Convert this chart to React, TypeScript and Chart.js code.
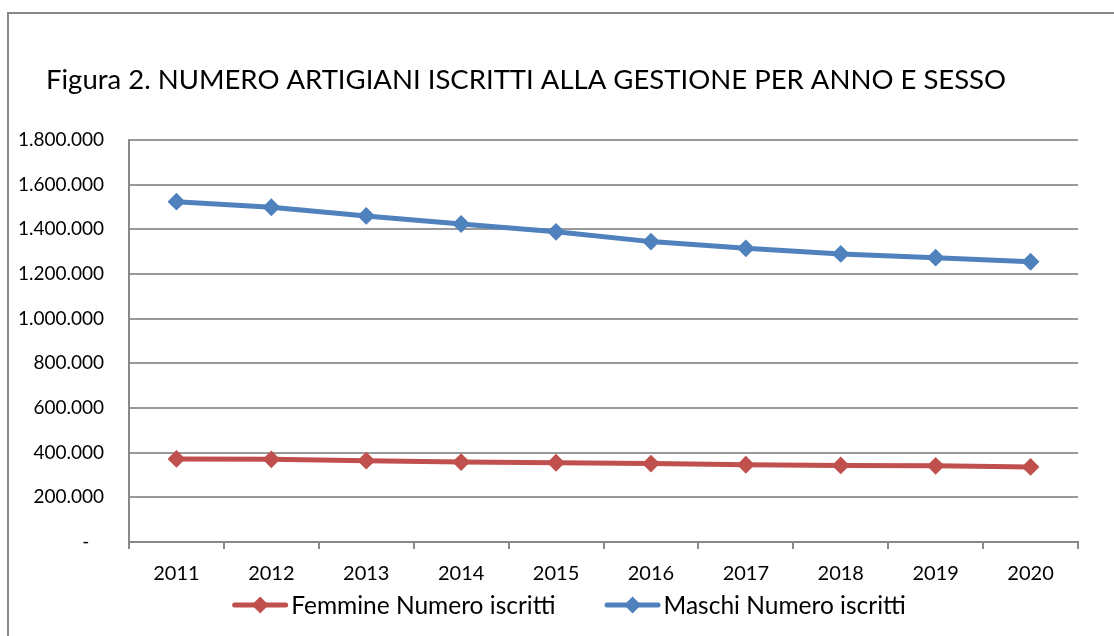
import { useEffect, useRef } from 'react';
import { Chart, registerables } from 'chart.js';

Chart.register(...registerables);

const TITLE = 'Figura 2. NUMERO ARTIGIANI ISCRITTI ALLA GESTIONE PER ANNO E SESSO';
const YEARS = ['2011', '2012', '2013', '2014', '2015', '2016', '2017', '2018', '2019', '2020'];
const SERIES_NAMES = ['Femmine Numero iscritti', 'Maschi Numero iscritti'];
const FEMMINE = [372000, 370000, 364000, 358000, 355000, 351000, 346000, 343000, 341000, 336000];
const MASCHI = [1524000, 1499000, 1460000, 1424000, 1389000, 1345000, 1315000, 1290000, 1273000, 1255000];
const Y_MIN = 0;
const Y_MAX = 1800000;
const Y_STEP = 200000;
const COLORS = ['#C0504D', '#4F81BD'];

const FONT = 'Lato';

function formatIt(v: number): string {
  if (v === 0) return '-   ';
  return String(Math.round(v)).replace(/\B(?=(\d{3})+(?!\d))/g, '.');
}

const titlePlugin = {
  id: 'customTitle',
  afterDraw(chart: any) {
    const ctx = chart.ctx;
    ctx.save();
    ctx.font = `27.5px ${FONT}`;
    ctx.fillStyle = '#000';
    ctx.textAlign = 'left';
    ctx.textBaseline = 'alphabetic';
    ctx.fillText(TITLE, 37, 75);
    ctx.restore();
  },
};

const legendPlugin = {
  id: 'customLegend',
  afterDraw(chart: any) {
    const ctx = chart.ctx;
    ctx.save();
    ctx.font = `24.5px ${FONT}`;
    const sampleW = 56;
    const textGap = 3;
    const itemGap = 49;
    const items = chart.data.datasets.map((ds: any) => ({
      text: ds.label as string,
      color: ds.borderColor as string,
      w: sampleW + textGap + ctx.measureText(ds.label).width,
    }));
    const total = items.reduce((s: number, it: any) => s + it.w, 0) + itemGap * (items.length - 1);
    let x = chart.width / 2 - total / 2;
    const yc = 591;
    items.forEach((it: any) => {
      ctx.strokeStyle = it.color;
      ctx.lineWidth = 5;
      ctx.lineCap = 'round';
      ctx.beginPath();
      ctx.moveTo(x + 2.5, yc);
      ctx.lineTo(x + sampleW - 2.5, yc);
      ctx.stroke();
      const cx = x + sampleW / 2;
      ctx.fillStyle = it.color;
      ctx.beginPath();
      ctx.moveTo(cx - 8.5, yc);
      ctx.lineTo(cx, yc - 8.5);
      ctx.lineTo(cx + 8.5, yc);
      ctx.lineTo(cx, yc + 8.5);
      ctx.closePath();
      ctx.fill();
      ctx.fillStyle = '#000';
      ctx.textAlign = 'left';
      ctx.textBaseline = 'alphabetic';
      ctx.fillText(it.text, x + sampleW + textGap, yc + 8.5);
      x += it.w + itemGap;
    });
    ctx.restore();
  },
};

export default function App() {
  const ref = useRef<HTMLCanvasElement | null>(null);

  useEffect(() => {
    if (!ref.current) return;
    const mkDs = (label: string, data: number[], color: string) => ({
      label,
      data,
      borderColor: color,
      backgroundColor: color,
      borderWidth: 5,
      pointStyle: 'rectRot',
      pointRadius: 7.5,
      pointBorderWidth: 2,
      pointBackgroundColor: color,
      pointBorderColor: color,
      tension: 0,
    });
    const chart = new Chart(ref.current, {
      type: 'line',
      data: {
        labels: YEARS,
        datasets: [mkDs(SERIES_NAMES[0], FEMMINE, COLORS[0]), mkDs(SERIES_NAMES[1], MASCHI, COLORS[1])],
      },
      options: {
        animation: false,
        responsive: false,
        maintainAspectRatio: false,
        devicePixelRatio: 1,
        layout: { padding: { left: 0, top: 126, right: 51, bottom: 44 } },
        font: { family: FONT, size: 19 },
        color: '#000',
        scales: {
          x: {
            type: 'category',
            offset: true,
            afterFit(scale: any) {
              scale.height = 50;
            },
            grid: {
              offset: true,
              drawOnChartArea: false,
              drawTicks: true,
              tickLength: 7,
              color: '#888888',
              lineWidth: 2,
            },
            border: { display: true, color: '#888888', width: 2 },
            ticks: {
              color: '#000',
              font: { family: FONT, size: 20 },
              padding: 13,
              maxRotation: 0,
            },
          },
          y: {
            min: Y_MIN,
            max: Y_MAX,
            afterFit(scale: any) {
              scale.width = 120;
            },
            grid: {
              drawTicks: false,
              color: '#999999',
              lineWidth: 2,
            },
            border: { display: true, color: '#888888', width: 2 },
            ticks: {
              stepSize: Y_STEP,
              color: '#000',
              font: { family: FONT, size: 19 },
              padding: 25,
              callback: (v: any) => formatIt(Number(v)),
            },
          },
        },
        plugins: {
          title: { display: false },
          tooltip: { enabled: false },
          legend: { display: false },
        },
      },
      plugins: [titlePlugin, legendPlugin],
    });
    return () => chart.destroy();
  }, []);

  return (
    <div style={{ position: 'fixed', left: 0, top: 0, width: 1114, height: 636, overflow: 'hidden', background: '#fff' }}>
      <div
        style={{
          position: 'absolute',
          left: 7,
          top: 12,
          width: 1200,
          height: 700,
          borderLeft: '2px solid #888888',
          borderTop: '2px solid #888888',
          boxSizing: 'border-box',
        }}
      />
      <canvas
        ref={ref}
        width={1120}
        height={622}
        style={{ position: 'absolute', left: 9, top: 14, width: 1120, height: 622 }}
      />
    </div>
  );
}
